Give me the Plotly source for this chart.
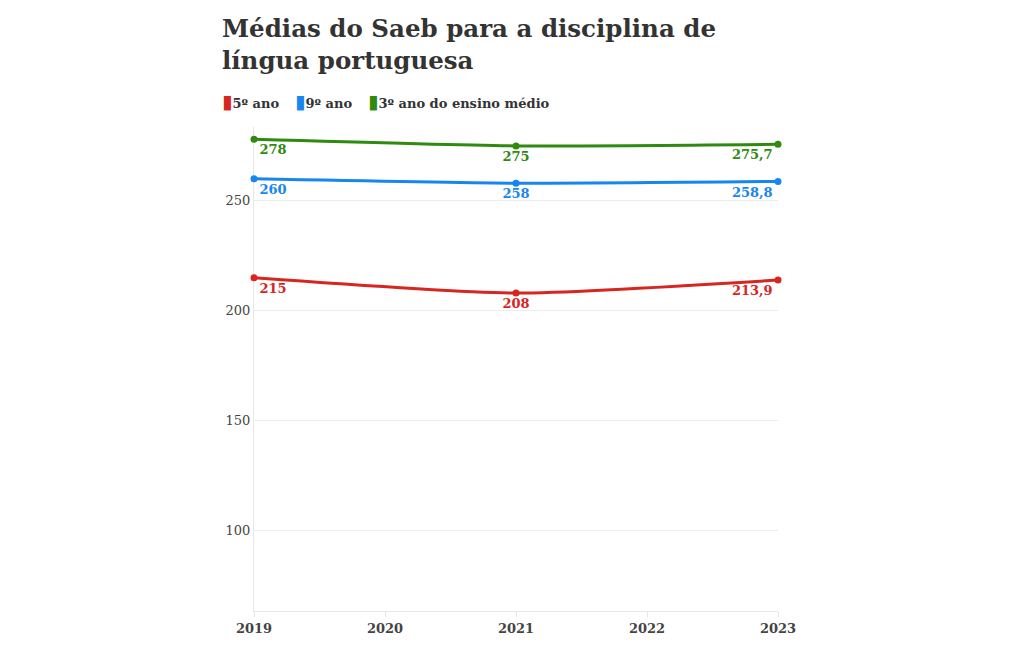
import plotly.graph_objects as go

years = [2019, 2021, 2023]
series_names = ["5º ano", "9º ano", "3º ano do ensino médio"]
vals_5 = [215, 208, 213.9]
vals_9 = [260, 258, 258.8]
vals_em = [278, 275, 275.7]
labels_5 = ["215", "208", "213,9"]
labels_9 = ["260", "258", "258,8"]
labels_em = ["278", "275", "275,7"]
colors = ["#d7261f", "#1786f0", "#2f8a0f"]
x_ticks = [2019, 2020, 2021, 2022, 2023]
y_ticks = [100, 150, 200, 250]
title_text = "Médias do Saeb para a disciplina de<br>língua portuguesa"

FONT = "DejaVu Serif"
L, R, T, B = 246, 250, 119, 47
W, H = 1020, 650
PW, PH = W - L - R, H - T - B


def px_x(x):
    return (x - L) / PW


def px_y(y):
    return 1 - (y - T) / PH


fig = go.Figure()
positions = ["bottom right", "bottom center", "bottom left"]
for name, vals, labs, col in zip(series_names, [vals_5, vals_9, vals_em],
                                 [labels_5, labels_9, labels_em], colors):
    fig.add_trace(go.Scatter(
        x=years, y=vals, mode="lines+markers+text", name=name,
        line=dict(color=col, width=3, shape="spline", smoothing=0.6),
        marker=dict(color=col, size=7),
        text=labs, textposition=positions,
        textfont=dict(family=FONT, size=13, color=col, weight="bold"),
        showlegend=False, hoverinfo="x+y", cliponaxis=False))

annotations = [dict(
    text="<b>" + title_text + "</b>", xref="paper", yref="paper",
    x=px_x(212), y=px_y(4), xanchor="left", yanchor="top", align="left",
    showarrow=False, font=dict(family=FONT, size=24.5, color="#333"))]

legend_x = [212, 285, 358]
for name, col, lx in zip(series_names, colors, legend_x):
    annotations.append(dict(
        text="<span style='color:%s;font-size:19px'>▮</span><b>%s</b>" % (col, name),
        xref="paper", yref="paper", x=px_x(lx), y=px_y(93),
        xanchor="left", yanchor="middle", showarrow=False,
        font=dict(family=FONT, size=13, color="#333")))

fig.update_layout(
    width=W, height=H,
    paper_bgcolor="white", plot_bgcolor="white",
    margin=dict(l=L, r=R, t=T, b=B),
    font=dict(family=FONT, color="#444", size=13),
    showlegend=False,
    annotations=annotations,
    xaxis=dict(range=[2019, 2023], tickvals=x_ticks, ticktext=[str(v) for v in x_ticks],
               showgrid=False, showline=True, linecolor="#e6e6e6", linewidth=1,
               ticks="outside", ticklen=5, tickcolor="#e6e6e6",
               tickfont=dict(family=FONT, size=13, color="#444", weight="bold"),
               zeroline=False, fixedrange=True, layer="below traces"),
    yaxis=dict(range=[63.2, 283.6], tickvals=y_ticks,
               showgrid=True, gridcolor="#ececec", gridwidth=1,
               showline=True, linecolor="#e6e6e6",
               tickfont=dict(family=FONT, size=13, color="#444"),
               zeroline=False, ticks="", fixedrange=True, layer="below traces"),
)

fig.write_html("out.html")
